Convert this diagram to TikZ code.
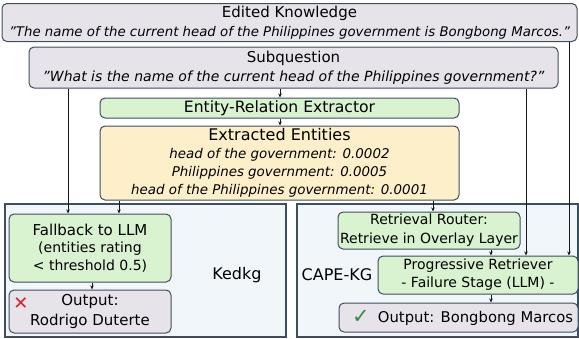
\documentclass[tikz,border=0pt]{standalone}
\usepackage{fontspec}
\setmainfont{DejaVu Sans}
\usetikzlibrary{arrows.meta}
\definecolor{bd}{HTML}{3E4E5E}
\definecolor{lav}{HTML}{E7E3EB}
\definecolor{grn}{HTML}{D9F2D0}
\definecolor{yel}{HTML}{FDEFC9}
\definecolor{pan}{HTML}{F1F6FB}
\definecolor{crs}{HTML}{D8232A}
\definecolor{chk}{HTML}{3C8C3C}
\newcommand{\fs}[2]{\fontsize{#1}{#2}\selectfont}
\begin{document}
\begin{tikzpicture}[x=1pt,y=-1pt,
  box/.style={draw=bd, line width=1pt, rounded corners=5pt, inner sep=0pt, align=center},
  panelbox/.style={draw=bd, line width=1.1pt, fill=pan, inner sep=0pt},
  arr/.style={draw=black!90, line width=1pt, -{Stealth[length=4pt,width=3.5pt]}},
  lbl/.style={inner sep=0pt}]
\useasboundingbox (0,0) rectangle (579,338);
% panels
\node[panelbox, minimum width=281, minimum height=133] (lp) at (145.5,270.5) {};
\node[panelbox, minimum width=281, minimum height=133] (rp) at (437.5,270.5) {};
% top boxes
\node[box, fill=lav, minimum width=575, minimum height=38, font=\fs{15}{19}] (ek) at (289.5,22.5)
  {Edited Knowledge\\{\fs{13.3}{19}\itshape "The name of the current head of the Philippines government is Bongbong Marcos."}};
\node[box, fill=lav, minimum width=529, minimum height=41, font=\fs{15}{19}] (sq) at (293.5,67.5)
  {Subquestion\\{\fs{14}{19}\itshape "What is the name of the current head of the Philippines government?"}};
\node[box, fill=grn, minimum width=359, minimum height=20, font=\fs{15.6}{18}] (er) at (279.5,108)
  {Entity-Relation Extractor};
\node[box, fill=yel, minimum width=359, minimum height=74, font=\fs{16}{18}] (ee) at (279.5,163)
  {Extracted Entities\\{\fs{13.4}{17.5}\itshape head of the government: 0.0002}\\{\fs{13.4}{17.5}\itshape Philippines government: 0.0005}\\{\fs{13.4}{17.5}\itshape head of the Philippines government: 0.0001}};
% left panel
\node[box, fill=grn, minimum width=162, minimum height=68, font=\fs{15}{17.5}] (fb) at (90,248)
  {Fallback to LLM\\{\fs{14}{17.5}(entities rating}\\{\fs{14}{17.5}< threshold 0.5)}};
\node[box, fill=lav, minimum width=162, minimum height=43, font=\fs{15}{20}] (od) at (90,311.5)
  {Output:\\Rodrigo Duterte};
\node[lbl, text=crs, font=\fs{18}{18}] (xm) at (21,304) {✕};
\node[lbl, font=\fs{16}{16}] (kd) at (237,275) {Kedkg};
% right panel
\node[box, fill=grn, minimum width=182, minimum height=37, font=\fs{14}{19}] (rr) at (429,230.5)
  {Retrieval Router:\\Retrieve in Overlay Layer};
\node[box, fill=grn, minimum width=200, minimum height=38, font=\fs{14}{18}] (pr) at (478,275)
  {Progressive Retriever\\- Failure Stage (LLM) -};
\node[box, fill=lav, minimum width=239, minimum height=29] (ob) at (458.5,317.5) {};
\node[lbl, font=\fs{14.8}{15}] (obt) at (475.5,318) {Output: Bongbong Marcos};
\node[lbl, text=chk, font=\fs{21}{21}] (ck) at (361,317) {✓};
\node[lbl, font=\fs{16}{16}] (cape) at (337,275) {CAPE-KG};
% column coordinates
\coordinate (c68) at (68,0);
\coordinate (c92) at (92,0);
\coordinate (c119) at (119,0);
\coordinate (c280) at (280,0);
\coordinate (c433) at (433,0);
\coordinate (c491) at (491,0);
\coordinate (c526) at (526,0);
\coordinate (c569) at (569,0);
% connectors
\draw[arr] (c280 |- sq.south) -- (c280 |- er.north);
\draw[arr] (c280 |- er.south) -- (c280 |- ee.north);
\draw[arr] (c68 |- sq.south) -- (c68 |- fb.north);
\draw[arr] (c119 |- ee.south) -- (c119 |- fb.north);
\draw[arr] (c92 |- fb.south) -- (c92 |- od.north);
\draw[arr] (c433 |- ee.south) -- (c433 |- rr.north);
\draw[arr] (c491 |- rr.south) -- (c491 |- pr.north);
\draw[arr] (c491 |- pr.south) -- (c491 |- ob.north);
\draw[arr] (c526 |- sq.south) -- (c526 |- pr.north);
\draw[arr] (c569 |- ek.south) -- (c569 |- pr.north);
\end{tikzpicture}
\end{document}
